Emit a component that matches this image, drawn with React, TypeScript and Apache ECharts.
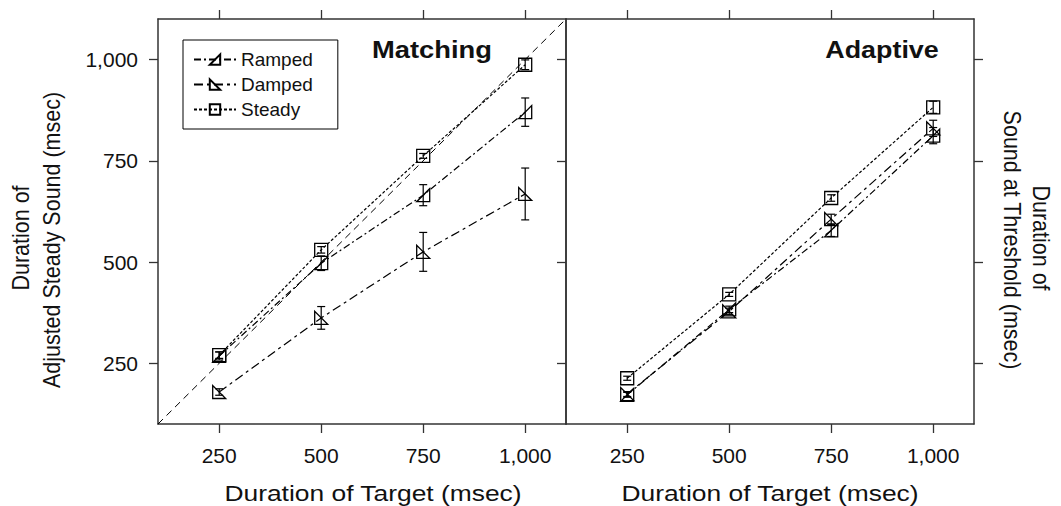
import React, { useEffect, useRef } from "react";
import * as echarts from "echarts";

const targets = [250, 500, 750, 1000];
const tickValues = [250, 500, 750, 1000];
const tickLabels = ["250", "500", "750", "1,000"];

// Matching panel
const matchRamped = [268, 497, 665, 870];
const matchRampedErr = [10, 18, 26, 35];
const matchDamped = [179, 362, 525, 668];
const matchDampedErr = [8, 28, 48, 64];
const matchSteady = [270, 530, 762, 987];
const matchSteadyErr = [8, 8, 6, 12];

// Adaptive panel
const adaptRamped = [172, 383, 578, 812];
const adaptRampedErr = [6, 8, 15, 20];
const adaptDamped = [174, 378, 606, 830];
const adaptDampedErr = [6, 8, 12, 20];
const adaptSteady = [213, 420, 658, 882];
const adaptSteadyErr = [5, 5, 8, 15];

const FONT = "'Liberation Sans', Arial, Helvetica, sans-serif";
const INK = "#000";
const FRAME = "#333";

const RAMP_SYM = "path://M0,10 L10,10 L10,0 Z";
const DAMP_SYM = "path://M0,0 L0,10 L10,10 Z";

const styles: Record<string, { symbol: string; dash: number[] }> = {
  Ramped: { symbol: RAMP_SYM, dash: [7, 3, 2, 3] },
  Damped: { symbol: DAMP_SYM, dash: [9, 4, 3, 4] },
  Steady: { symbol: "rect", dash: [3, 2] },
};

function lineSeries(name: string, values: number[], axis: number) {
  const s = styles[name];
  return {
    type: "line",
    name,
    xAxisIndex: axis * 2,
    yAxisIndex: axis * 2,
    data: targets.map((t, i) => [t, values[i]]),
    symbol: s.symbol,
    symbolSize: 13,
    itemStyle: { color: "rgba(255,255,255,0)", borderColor: INK, borderWidth: 1.3 },
    lineStyle: { color: INK, width: 1.2, type: s.dash },
    z: 3,
  };
}

function errSeries(name: string, values: number[], errs: number[], axis: number) {
  return {
    type: "custom",
    name: name + " err",
    xAxisIndex: axis * 2,
    yAxisIndex: axis * 2,
    data: targets.map((t, i) => [t, values[i] - errs[i], values[i] + errs[i]]),
    encode: { x: 0, y: [1, 2] },
    silent: true,
    z: 2,
    renderItem: (params: any, api: any) => {
      const x = api.value(0);
      const top = api.coord([x, api.value(2)]);
      const bot = api.coord([x, api.value(1)]);
      const w = 4;
      const st = { stroke: INK, lineWidth: 1.2 };
      return {
        type: "group",
        children: [
          { type: "line", shape: { x1: top[0], y1: top[1], x2: bot[0], y2: bot[1] }, style: st },
          { type: "line", shape: { x1: top[0] - w, y1: top[1], x2: top[0] + w, y2: top[1] }, style: st },
          { type: "line", shape: { x1: bot[0] - w, y1: bot[1], x2: bot[0] + w, y2: bot[1] }, style: st },
        ],
      };
    },
  };
}

function xAxis(grid: number, position: string, labels: boolean) {
  return {
    type: "value",
    gridIndex: grid,
    position,
    min: 100,
    max: 1100,
    axisLine: { show: true, onZero: false, lineStyle: { color: FRAME, width: 1.5 } },
    axisTick: { show: true, inside: false, length: 9, customValues: tickValues, lineStyle: { color: FRAME, width: 1.3 } },
    axisLabel: {
      show: labels,
      customValues: tickValues,
      margin: 21,
      fontFamily: FONT,
      fontSize: 21,
      color: "#111",
      formatter: (v: number) => tickLabels[tickValues.indexOf(v)] ?? "",
    },
    splitLine: { show: false },
  };
}

function yAxis(grid: number, position: string, labels: boolean, ticks: boolean, inside: boolean) {
  return {
    type: "value",
    gridIndex: grid,
    position,
    min: 100,
    max: 1100,
    axisLine: { show: true, onZero: false, lineStyle: { color: FRAME, width: 1.5 } },
    axisTick: { show: ticks, inside, length: 9, customValues: tickValues, lineStyle: { color: FRAME, width: 1.3 } },
    axisLabel: {
      show: labels,
      customValues: tickValues,
      margin: 20,
      fontFamily: FONT,
      fontSize: 21,
      color: "#111",
      formatter: (v: number) => tickLabels[tickValues.indexOf(v)] ?? "",
    },
    splitLine: { show: false },
  };
}

function htext(text: string, x: number, y: number, size: number, bold = false, sx = 1.15) {
  return {
    type: "text",
    x,
    y,
    scaleX: sx,
    style: {
      text,
      fontFamily: FONT,
      fontSize: size,
      fontWeight: bold ? "bold" : "normal",
      fill: "#111",
      textAlign: "center",
      textVerticalAlign: "middle",
    },
  };
}

function vtext(text: string, x: number, y: number, rot: number) {
  return {
    type: "text",
    x,
    y,
    rotation: rot,
    scaleY: 1.12,
    style: {
      text,
      fontFamily: FONT,
      fontSize: 21.5,
      fill: "#111",
      textAlign: "center",
      textVerticalAlign: "middle",
    },
  };
}

export default function App() {
  const ref = useRef<HTMLDivElement>(null);
  useEffect(() => {
    if (!ref.current) return;
    const chart = echarts.init(ref.current, undefined, { renderer: "svg" });
    chart.setOption({
      animation: false,
      backgroundColor: "#fff",
      grid: [
        { left: 158, top: 19, width: 408, height: 405 },
        { left: 566, top: 19, width: 408, height: 405 },
      ],
      xAxis: [
        xAxis(0, "bottom", true),
        xAxis(0, "top", false),
        xAxis(1, "bottom", true),
        xAxis(1, "top", false),
      ],
      yAxis: [
        yAxis(0, "left", true, true, false),
        yAxis(0, "right", false, true, true),
        yAxis(1, "left", false, false, false),
        yAxis(1, "right", false, true, false),
      ],
      legend: {
        data: ["Ramped", "Damped", "Steady"],
        orient: "vertical",
        left: 183,
        top: 40,
        padding: [10, 25, 10, 10],
        itemGap: 6,
        itemWidth: 42,
        itemHeight: 13,
        borderColor: "#000",
        borderWidth: 1,
        backgroundColor: "#fff",
        textStyle: { fontFamily: FONT, fontSize: 19, color: "#111" },
        selectedMode: false,
      },
      graphic: [
        htext("Matching", 432, 50, 24, true, 1.14),
        htext("Adaptive", 882, 50, 24, true, 1.12),
        htext("Duration of Target (msec)", 373, 493, 22, false, 1.2),
        htext("Duration of Target (msec)", 770, 493, 22, false, 1.2),
        vtext("Duration of", 21, 238, Math.PI / 2),
        vtext("Adjusted Steady Sound (msec)", 52, 240, Math.PI / 2),
        vtext("Duration of", 1041, 238, -Math.PI / 2),
        vtext("Sound at Threshold (msec)", 1012, 240, -Math.PI / 2),
      ],
      series: [
        {
          type: "line",
          name: "identity",
          xAxisIndex: 0,
          yAxisIndex: 0,
          data: [[100, 100], [1100, 1100]],
          symbol: "none",
          silent: true,
          lineStyle: { color: INK, width: 1, type: [7, 5] },
          z: 1,
        },
        errSeries("Ramped", matchRamped, matchRampedErr, 0),
        errSeries("Damped", matchDamped, matchDampedErr, 0),
        errSeries("Steady", matchSteady, matchSteadyErr, 0),
        lineSeries("Ramped", matchRamped, 0),
        lineSeries("Damped", matchDamped, 0),
        lineSeries("Steady", matchSteady, 0),
        errSeries("Ramped", adaptRamped, adaptRampedErr, 1),
        errSeries("Damped", adaptDamped, adaptDampedErr, 1),
        errSeries("Steady", adaptSteady, adaptSteadyErr, 1),
        lineSeries("Ramped", adaptRamped, 1),
        lineSeries("Damped", adaptDamped, 1),
        lineSeries("Steady", adaptSteady, 1),
      ],
    });
    return () => chart.dispose();
  }, []);
  return (
    <div
      ref={ref}
      style={{ position: "fixed", left: 0, top: 0, width: 1061, height: 506, background: "#fff" }}
    />
  );
}
